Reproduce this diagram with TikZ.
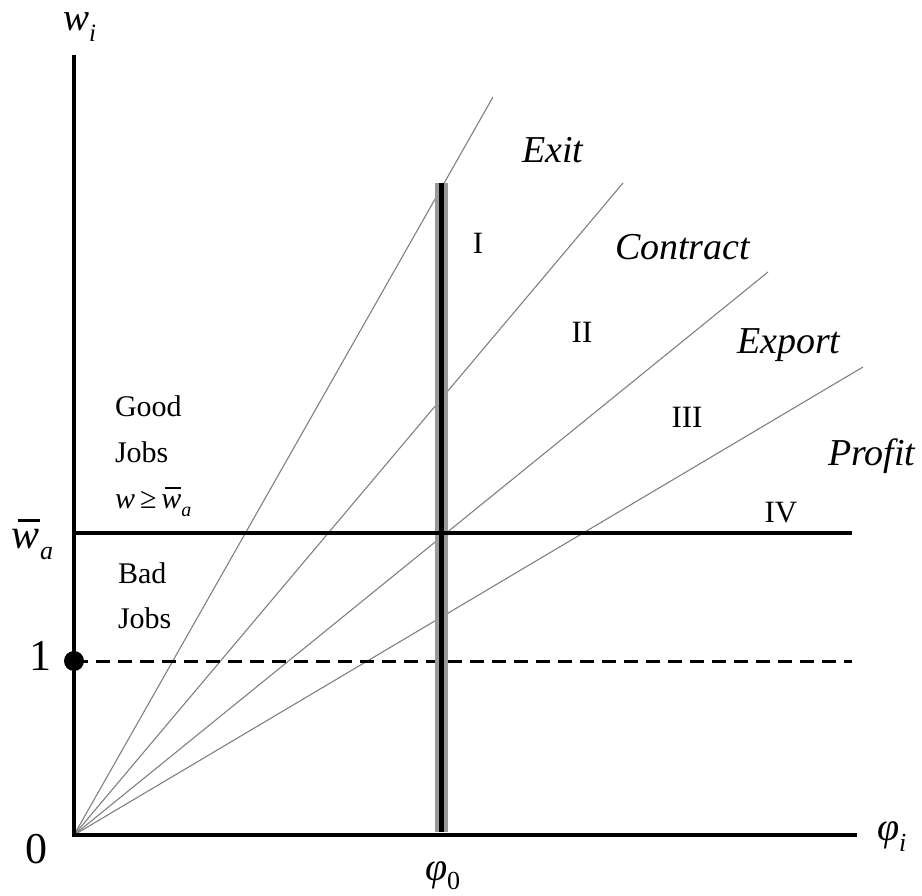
\documentclass[tikz,border=0pt]{standalone}
\usepackage{fontspec}
\setmainfont{Liberation Serif}
\newcommand{\fs}[1]{\fontsize{#1}{#1}\selectfont}
\newcommand{\mysub}[3]{\raisebox{-#1}{\fs{#2}\itshape #3}}
\newcommand{\ovw}[4]{% size, bar raise, bar thickness, shift
  \setbox0\hbox{\fs{#1}\itshape w}%
  \rlap{\hspace{#4\wd0}\rule[#2]{0.8\wd0}{#3}}\box0}
\tikzset{
  ray/.style={draw=gray, line width=1.1pt},
  axis/.style={draw=black, line width=4pt},
  lbl/.style={inner sep=0pt, outer sep=0pt},
  roman/.style={lbl, anchor=base, font=\fs{31}},
  ital/.style={lbl, anchor=base west, font=\fs{38}\itshape},
  txt/.style={lbl, anchor=base west, font=\fs{30}},
}
\begin{document}
\begin{tikzpicture}[x=1pt, y=-1pt]
\useasboundingbox (0,0) rectangle (922,896);
% coordinates
\coordinate (O) at (74,835);
\coordinate (ytop) at (74,57);
\coordinate (xend) at (855,835);
\coordinate (hL) at (74,533);
\coordinate (hR) at (852,533);
\coordinate (dR) at (852,661);
\coordinate (vT) at (441.5,183);
\coordinate (vB) at (441.5,832);
\coordinate (eExit) at (493,97);
\coordinate (eContract) at (623,183);
\coordinate (eExport) at (768,272);
\coordinate (eProfit) at (863,367);
% rays
\draw[ray] (O) -- (eExit);
\draw[ray] (O) -- (eContract);
\draw[ray] (O) -- (eExport);
\draw[ray] (O) -- (eProfit);
% dashed line
\draw[line width=3pt, dash pattern=on 14pt off 8pt] (74,661) coordinate (dL) -- (dR);
% vertical thick bar
\draw[line width=13pt, draw=gray!80] (vT) -- (vB);
\draw[line width=5pt, draw=black] (vT) -- (vB);
% axes and threshold
\draw[axis] (hL) -- (hR);
\draw[axis, line cap=rect] (ytop) -- (O) -- (xend);
\fill (dL) circle (10pt) node (dot) {};
% axis labels
\node[lbl, anchor=base west] (wi) at (63,31) {\fs{39}\itshape w\mysub{11pt}{25}{i}};
\node[lbl, anchor=base west] (wa) at (12,548) {\ovw{42}{26pt}{2.6pt}{0.2}\mysub{11pt}{26}{a}};
\node[lbl, anchor=base] (one) at (41,670) {\fs{44}1};
\node[lbl, anchor=base] (zero) at (36,863) {\fs{44}0};
\node[lbl, anchor=base west] (phi0) at (425,880) {\fs{40}\itshape φ\mysub{9pt}{26}{\upshape 0}};
\node[lbl, anchor=base west] (phii) at (877,840) {\fs{40}\itshape φ\mysub{11pt}{26}{i}};
% region texts
\node[txt] (good) at (115,417) {Good};
\node[txt] (jobs1) at (115,462) {Jobs};
\node[txt] (wge) at (115,508) {\itshape w\hspace{5pt}\upshape≥\hspace{5pt}\ovw{30}{19pt}{1.8pt}{0.2}\mysub{8pt}{20}{a}};
\node[txt] (bad) at (118,583) {Bad};
\node[txt] (jobs2) at (118,628) {Jobs};
% roman numerals
\node[roman] (r1) at (478,254) {I};
\node[roman] (r2) at (582,342) {II};
\node[roman] (r3) at (687,427) {III};
\node[roman] (r4) at (781,522) {IV};
% curve labels
\node[ital] (lexit) at (522,163) {Exit};
\node[ital] (lcontract) at (615,260) {Contract};
\node[ital] (lexport) at (737,353) {Export};
\node[ital] (lprofit) at (828,465) {Profit};
\end{tikzpicture}
\end{document}
